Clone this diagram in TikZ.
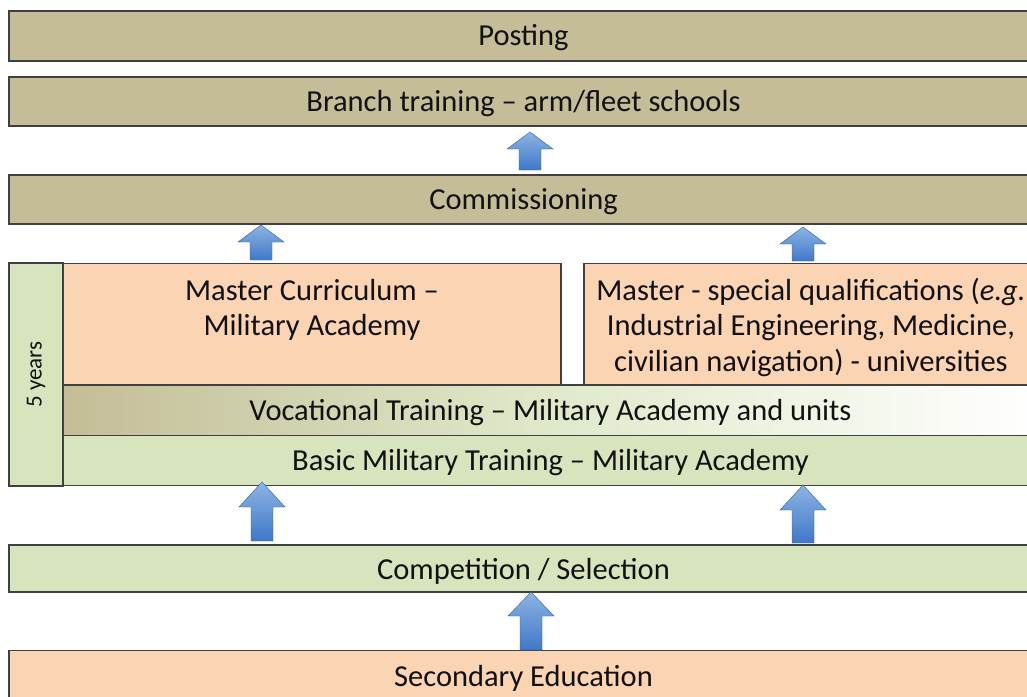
\documentclass[tikz,border=0pt]{standalone}
\usepackage{fontspec}
\setmainfont{Carlito}
\definecolor{tanc}{HTML}{C4BD97}
\definecolor{peach}{HTML}{FBD4B4}
\definecolor{lgreen}{HTML}{D7E4BD}
\definecolor{edgec}{HTML}{404040}
\definecolor{arrtop}{HTML}{8DB4E3}
\definecolor{arrbot}{HTML}{3F78C8}
\definecolor{txt}{HTML}{111111}
\newcommand\blockup[4]{% cx, tip y, head base y, bottom y
  \shade[arrowshape] (#1-23,#3) -- (#1,#2) -- (#1+23,#3) -- (#1+11,#3) -- (#1+11,#4) -- (#1-11,#4) -- (#1-11,#3) -- cycle;}
\begin{document}
\begin{tikzpicture}[x=1pt,y=-1pt,
  box/.style={draw=edgec, line width=1.3pt, inner sep=0pt},
  lbl/.style={text=txt, font=\fontsize{30.5}{35.5}\selectfont, align=center, inner sep=0pt},
  arrowshape/.style={top color=arrtop, bottom color=arrbot, draw=arrbot!80!black, line width=0.4pt}]
\useasboundingbox (0,0) rectangle (1027,696);
\clip (0,0) rectangle (1027,696);
\fill[white] (0,0) rectangle (1027,696);
% top bars
\node[box, fill=tanc, minimum width=1029pt, minimum height=50pt] (post) at (523.5,36) {};
\node[lbl] (postt) at ([yshift=-2pt]post.center) {Posting};
\node[box, fill=tanc, minimum width=1029pt, minimum height=49pt] (branch) at (523.5,101.5) {};
\node[lbl] (brancht) at ([yshift=-2pt]branch.center) {Branch training -- arm/fleet schools};
\node[box, fill=tanc, minimum width=1029pt, minimum height=49pt] (comm) at (523.5,199.5) {};
\node[lbl] (commt) at ([yshift=-2pt]comm.center) {Commissioning};
% 5 years
\node[box, fill=lgreen, minimum width=54pt, minimum height=223pt] (five) at (36,374.5) {};
\node[text=txt, rotate=90, font=\fontsize{23}{26}\selectfont] (fivet) at (five.center) {5 years};
% masters
\node[box, fill=peach, minimum width=498pt, minimum height=122pt, anchor=north] (mcur) at (312,263) {};
\node[lbl] (mcurt) at (312,310) {Master Curriculum --\\Military Academy};
\node[box, fill=peach, minimum width=454pt, minimum height=122pt, anchor=north] (mspec) at (811,263) {};
\node[lbl] (mspect) at (811,327) {Master - special qualifications (\textit{e.g.}\\Industrial Engineering, Medicine,\\civilian navigation) - universities};
% vocational & basic
\shade[left color=tanc, right color=white, middle color=lgreen!80!white, draw=edgec, line width=1.3pt] (63,385) rectangle (1038,435.5);
\node[lbl] (voc) at (550.5,412.5) {Vocational Training -- Military Academy and units};
\node[box, fill=lgreen, minimum width=975pt, minimum height=50pt] (basic) at (550.5,460.5) {};
\node[lbl] (basict) at ([yshift=-2.5pt]basic.center) {Basic Military Training -- Military Academy};
% bottom
\node[box, fill=lgreen, minimum width=1029pt, minimum height=47pt] (compet) at (523.5,568.5) {};
\node[lbl] (compett) at ([yshift=-3pt]compet.center) {Competition / Selection};
\node[box, fill=peach, minimum width=1029pt, minimum height=60pt, anchor=north] (second) at (523.5,650) {};
\node[lbl] (secondt) at (523.5,678) {Secondary Education};
% arrows
\blockup{530}{132}{149}{170}
\blockup{261}{225}{242}{260}
\blockup{803}{227}{244}{261}
\blockup{262}{482}{507}{541}
\blockup{803}{485}{510}{543}
\blockup{531}{592}{616}{650}
\end{tikzpicture}
\end{document}
